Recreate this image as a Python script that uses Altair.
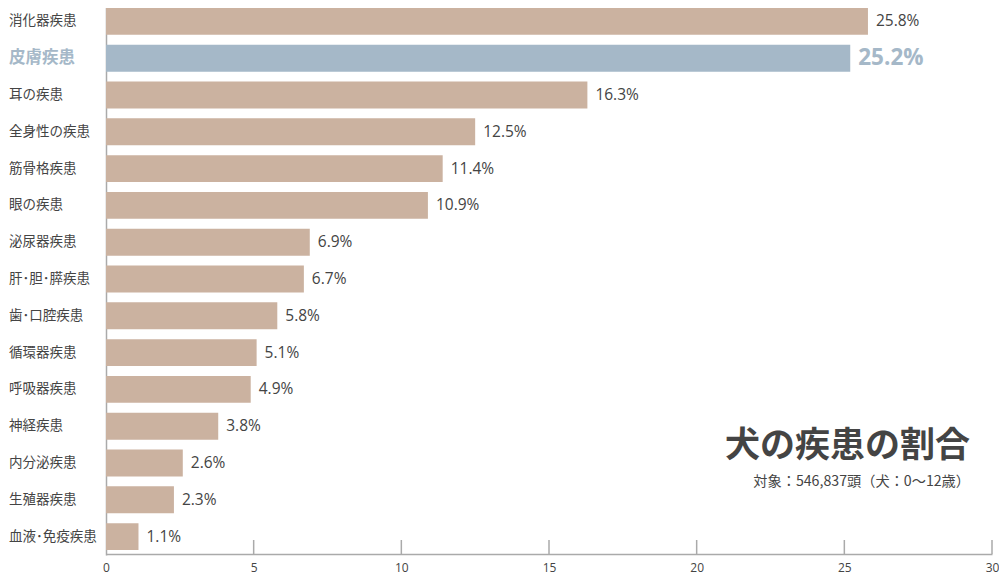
import altair as alt
import pandas as pd

categories = ["消化器疾患", "皮膚疾患", "耳の疾患", "全身性の疾患", "筋骨格疾患", "眼の疾患",
              "泌尿器疾患", "肝･胆･膵疾患", "歯･口腔疾患", "循環器疾患", "呼吸器疾患",
              "神経疾患", "内分泌疾患", "生殖器疾患", "血液･免疫疾患"]
values = [25.8, 25.2, 16.3, 12.5, 11.4, 10.9, 6.9, 6.7, 5.8, 5.1, 4.9, 3.8, 2.6, 2.3, 1.1]
highlighted = "皮膚疾患"
x_ticks = [0, 5, 10, 15, 20, 25, 30]
title_text = "犬の疾患の割合"
subtitle_text = "対象：546,837頭（犬：0〜12歳）"

TAN = "#cbb2a0"
BLUE = "#a5b8c8"
DARK = "#444444"
AXIS = "#aaaaaa"
JP = "Noto Sans CJK JP"
NUM = "Open Sans"

df = pd.DataFrame({
    "category": categories,
    "value": values,
    "hl": [c == highlighted for c in categories],
    "label": [f"{v:.1f}%" for v in values],
})
ticks_df = pd.DataFrame({"t": [t for t in x_ticks if t > 0]})
title_df = pd.DataFrame({"title": [title_text], "sub": [subtitle_text]})

W, H = 886, 546

xs = alt.X("value:Q", scale=alt.Scale(domain=[0, 30], nice=False),
           axis=alt.Axis(values=x_ticks, title=None, grid=False, ticks=False,
                         domainColor=AXIS, domainWidth=1.5, labelColor=DARK,
                         labelFontSize=12, labelFont=NUM, labelPadding=8,
                         labelFlush=False))
ys = alt.Y("category:N", sort=categories,
           scale=alt.Scale(range=[-5, 547], paddingInner=0.27, paddingOuter=0.135),
           axis=alt.Axis(title=None, labels=False, ticks=False, grid=False,
                         domainColor=AXIS, domainWidth=1.5))

base = alt.Chart(df)

bars = base.mark_bar().encode(
    x=xs, y=ys,
    color=alt.condition("datum.hl", alt.value(BLUE), alt.value(TAN)),
)

ycat = alt.Y("category:N", sort=categories)

vals = base.transform_filter("!datum.hl").mark_text(
    align="left", baseline="middle", dx=8, fontSize=15.5, font=NUM, color=DARK
).encode(x="value:Q", y=ycat, text="label:N")

val_hl = base.transform_filter("datum.hl").mark_text(
    align="left", baseline="middle", dx=8, fontSize=22.5, fontWeight="bold", font=NUM, color=BLUE
).encode(x="value:Q", y=ycat, text="label:N")

cat_lbl = base.transform_filter("!datum.hl").mark_text(
    align="left", baseline="middle", fontSize=13.5, font=JP, color=DARK
).encode(x=alt.value(-97), y=ycat, text="category:N")

cat_hl = base.transform_filter("datum.hl").mark_text(
    align="left", baseline="middle", fontSize=16.5, fontWeight="bold", font=JP, color=BLUE
).encode(x=alt.value(-97), y=ycat, text="category:N")

tick_rules = alt.Chart(ticks_df).mark_rule(color=AXIS, strokeWidth=1.5).encode(
    x=alt.X("t:Q"), y=alt.value(H - 14), y2=alt.value(H)
)

title_mark = alt.Chart(title_df).mark_text(
    align="right", baseline="middle", fontSize=35, fontWeight="bold", font=JP, color=DARK
).encode(x=alt.value(864), y=alt.value(438), text="title:N")

sub_mark = alt.Chart(title_df).mark_text(
    align="right", baseline="middle", fontSize=14.2, font=JP, color=DARK
).encode(x=alt.value(864), y=alt.value(474), text="sub:N")

chart = alt.layer(bars, vals, val_hl, cat_lbl, cat_hl, tick_rules, title_mark, sub_mark).properties(
    width=W, height=H,
    autosize=alt.AutoSizeParams(type="none"),
    padding={"left": 98, "top": 0, "right": 7, "bottom": 21},
).configure_view(stroke=None)

chart.save("out.html", embed_options={"renderer": "svg", "actions": False})
